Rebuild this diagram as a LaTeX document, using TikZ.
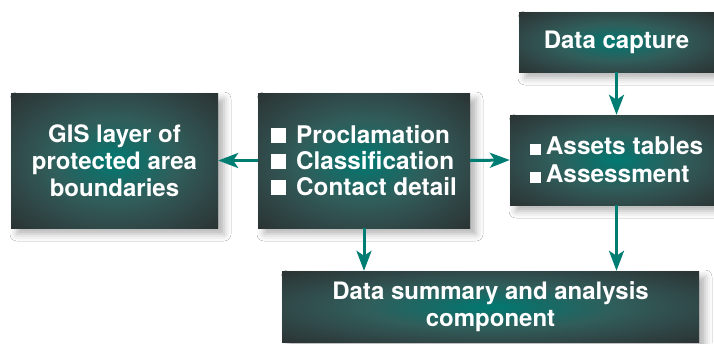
\documentclass[tikz,border=0pt]{standalone}
\usepackage{fontspec}
\setmainfont{TeX Gyre Heros}
\usetikzlibrary{arrows.meta,shadows.blur}
\definecolor{arrowteal}{RGB}{0,125,115}
\definecolor{cA}{RGB}{0,122,114}
\definecolor{cB}{RGB}{20,108,103}
\definecolor{cC}{RGB}{48,94,91}
\definecolor{cD}{RGB}{48,72,72}
\definecolor{cE}{RGB}{42,50,50}
\pgfdeclareradialshading{boxshade}{\pgfpoint{0bp}{0bp}}{color(0bp)=(cA); color(6bp)=(cB); color(15bp)=(cC); color(25bp)=(cD); color(36bp)=(cE); color(50bp)=(cE)}
\newcommand\bigbul{\rule{15pt}{15pt}\hspace{10pt}}
\newcommand\smallbul{\rule{11pt}{11pt}\hspace{5pt}}
\begin{document}
\begin{tikzpicture}[x=1pt,y=-1pt,
  box/.style={shading=boxshade, text=white, inner sep=0pt, align=center,
    font=\fontsize{24}{27}\selectfont\bfseries,
    blur shadow={shadow xshift=6pt, shadow yshift=-6pt, shadow blur radius=7pt, shadow opacity=30}},
  conn/.style={draw=arrowteal, line width=3pt, -{Stealth[length=20pt,width=15pt,inset=5pt]}}]
\fill[white] (0,0) rectangle (714,343);
\useasboundingbox (0,0) rectangle (714,343);
\node[box, minimum width=207pt, minimum height=135pt] (gis) at (114.5,160.5) {GIS layer of\\protected area\\boundaries};
\node[box, minimum width=212pt, minimum height=135pt, align=left, font=\fontsize{24.3}{26}\selectfont\bfseries] (mid) at (364,160.5) {\bigbul Proclamation\\\bigbul Classification\\\bigbul Contact detail};
\node[box, minimum width=195pt, minimum height=60pt] (dc) at (616.5,42) {Data capture};
\node[box, minimum width=213pt, minimum height=90pt, align=left, font=\fontsize{24.4}{28}\selectfont\bfseries] (as) at (616.5,160) {\smallbul Assets tables\\\smallbul Assessment};
\node[box, minimum width=417pt, minimum height=71pt] (bot) at (490.5,306.5) {Data summary and analysis\\component};
\draw[conn] (mid.west) -- (gis.east);
\draw[conn] (mid.east) -- (as.west);
\draw[conn] (dc.south) -- (as.north);
\draw[conn] (mid.south) -- (mid.south |- bot.north);
\draw[conn] (as.south) -- (as.south |- bot.north);
\end{tikzpicture}
\end{document}
